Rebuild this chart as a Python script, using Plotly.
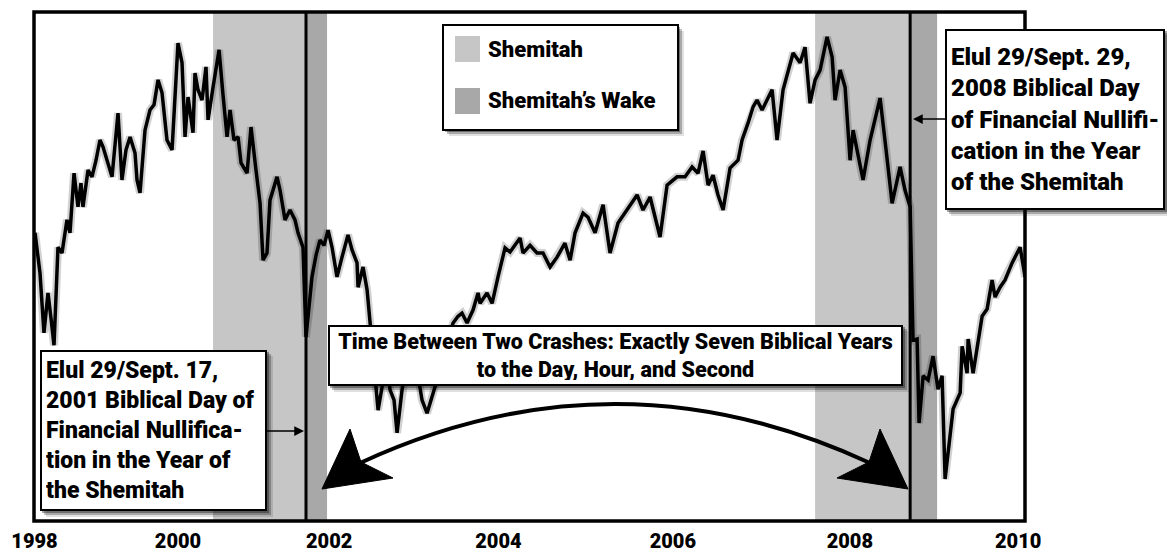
import plotly.graph_objects as go

# ---------------- data ----------------
years = [
    1998.556, 1998.614, 1998.660, 1998.707, 1998.742, 1998.777, 1998.823, 1998.870, 1998.928, 1998.963,
    1999.010, 1999.056, 1999.091, 1999.114, 1999.173, 1999.219, 1999.266, 1999.312, 1999.347, 1999.394,
    1999.452, 1999.522, 1999.568, 1999.615, 1999.662, 1999.720, 1999.743, 1999.778, 1999.836, 1999.894,
    1999.941, 1999.988, 2000.034, 2000.092, 2000.151, 2000.220, 2000.267, 2000.302, 2000.337, 2000.395,
    2000.418, 2000.453, 2000.500, 2000.546, 2000.570, 2000.628, 2000.698, 2000.744, 2000.791, 2000.826,
    2000.872, 2000.919, 2000.954, 2001.024, 2001.070, 2001.128, 2001.175, 2001.210, 2001.256, 2001.291,
    2001.373, 2001.408, 2001.466, 2001.524, 2001.582, 2001.617, 2001.675, 2001.710, 2001.780, 2001.827,
    2001.873, 2001.920, 2001.967, 2002.013, 2002.071, 2002.129, 2002.199, 2002.246, 2002.304, 2002.316,
    2002.374, 2002.421, 2002.455, 2002.502, 2002.549, 2002.595, 2002.642, 2002.688, 2002.735, 2002.770,
    2002.828, 2002.886, 2002.944, 2003.003, 2003.061, 2003.119, 2003.154, 2003.212, 2003.270, 2003.340,
    2003.422, 2003.480, 2003.526, 2003.585, 2003.654, 2003.713, 2003.736, 2003.817, 2003.876, 2003.945,
    2004.027, 2004.085, 2004.143, 2004.202, 2004.236, 2004.318, 2004.399, 2004.469, 2004.551, 2004.632,
    2004.724, 2004.784, 2004.842, 2004.935, 2004.993, 2005.075, 2005.168, 2005.249, 2005.342, 2005.447,
    2005.564, 2005.633, 2005.715, 2005.831, 2005.913, 2006.029, 2006.122, 2006.204, 2006.274, 2006.332,
    2006.390, 2006.448, 2006.506, 2006.565, 2006.646, 2006.739, 2006.786, 2006.856, 2006.914, 2006.960,
    2007.019, 2007.135, 2007.193, 2007.263, 2007.345, 2007.380, 2007.461, 2007.519, 2007.577, 2007.636,
    2007.694, 2007.775, 2007.834, 2007.868, 2007.927, 2007.985, 2008.043, 2008.078, 2008.136, 2008.194,
    2008.276, 2008.392, 2008.462, 2008.532, 2008.625, 2008.683, 2008.742, 2008.776, 2008.823, 2008.846,
    2008.893, 2008.951, 2009.009, 2009.067, 2009.114, 2009.149, 2009.242, 2009.324, 2009.347, 2009.405,
    2009.417, 2009.475, 2009.580, 2009.638, 2009.696, 2009.731, 2009.789, 2009.847, 2009.929, 2010.022,
    2010.080,
]

spx = [
    1158, 1080, 965, 1042, 993, 941, 1130, 1119, 1183, 1158,
    1273, 1208, 1254, 1208, 1279, 1266, 1298, 1337, 1324, 1298,
    1266, 1389, 1260, 1318, 1343, 1312, 1260, 1235, 1356, 1395,
    1405, 1453, 1428, 1337, 1318, 1524, 1486, 1343, 1420, 1351,
    1466, 1434, 1414, 1478, 1376, 1439, 1511, 1424, 1343, 1395,
    1337, 1343, 1293, 1273, 1362, 1279, 1215, 1105, 1119, 1221,
    1266, 1240, 1183, 1202, 1183, 1158, 1130, 957, 1073, 1115,
    1144, 1134, 1163, 1130, 1073, 1111, 1154, 1125, 1100, 1053,
    1092, 1048, 984, 893, 816, 860, 932, 855, 835, 772,
    855, 912, 932, 893, 835, 810, 829, 860, 893, 941,
    984, 997, 1003, 984, 1009, 1042, 1022, 1042, 1022, 1073,
    1129, 1121, 1134, 1148, 1119, 1134, 1119, 1119, 1092, 1111,
    1138, 1105, 1158, 1196, 1188, 1158, 1212, 1119, 1177, 1202,
    1231, 1202, 1227, 1150, 1250, 1266, 1266, 1285, 1273, 1316,
    1250, 1269, 1231, 1202, 1283, 1298, 1337, 1370, 1401, 1414,
    1395, 1434, 1337, 1434, 1482, 1505, 1486, 1516, 1408, 1453,
    1472, 1536, 1497, 1414, 1472, 1439, 1298, 1356, 1308, 1260,
    1337, 1418, 1318, 1215, 1285, 1240, 1208, 951, 953, 791,
    882, 874, 920, 856, 882, 683, 818, 849, 939, 887,
    953, 887, 997, 1011, 1067, 1034, 1053, 1067, 1100, 1130,
    1073,
]

tick_pos = [1998.55, 2000.22, 2001.98, 2003.95, 2005.98, 2008.04, 2010.0]
tick_text = ["1998", "2000", "2002", "2004", "2006", "2008", "2010"]

shemitah_start = [2000.628, 2007.636]
crash_day = [2001.710, 2008.742]      # Elul 29 of each Shemitah year
wake_end = [2001.955, 2009.056]

x_range = [1998.544, 2010.079]
y_range = [602, 1584]

# ---------------- style ----------------
W, H = 1167, 556
ML, MR, MT, MB = 34, 142, 12, 35
PW, PH = W - ML - MR, H - MT - MB
FONT = "Roboto, 'Liberation Sans Narrow', sans-serif"
LIGHT = "#c6c6c6"
DARK = "#a8a8a8"


def px(x):
    return (x - ML) / PW


def py(y):
    return (H - MB - y) / PH


fig = go.Figure()

# soft shadow under the index line
fig.add_trace(go.Scatter(
    x=years, y=spx, mode="lines",
    line=dict(color="rgba(0,0,0,0.18)", width=8),
    showlegend=False, hoverinfo="skip",
))
fig.add_trace(go.Scatter(
    x=years, y=spx, mode="lines",
    line=dict(color="black", width=3.5),
    showlegend=False, hoverinfo="skip",
))

shapes = []
for s, c, e in zip(shemitah_start, crash_day, wake_end):
    shapes.append(dict(type="rect", xref="x", yref="paper", x0=s, x1=c, y0=0, y1=1,
                       fillcolor=LIGHT, line=dict(width=0), layer="below"))
    shapes.append(dict(type="rect", xref="x", yref="paper", x0=c, x1=e, y0=0, y1=1,
                       fillcolor=DARK, line=dict(width=0), layer="below"))
    shapes.append(dict(type="line", xref="x", yref="paper", x0=c, x1=c, y0=0, y1=1,
                       line=dict(color="black", width=3), layer="above"))

# frame
shapes.append(dict(type="rect", xref="paper", yref="paper", x0=0, x1=1, y0=0, y1=1,
                   line=dict(color="black", width=3.5), layer="above"))


def shadow(x0, y0, x1, y1):
    out = []
    for off, col in [(6, "rgba(0,0,0,0.12)"), (4, "rgba(0,0,0,0.25)"), (2, "rgba(0,0,0,0.35)")]:
        out.append(dict(type="rect", xref="paper", yref="paper",
                        x0=px(x0 + off), x1=px(x1 + off), y0=py(y1 + off), y1=py(y0 + off),
                        fillcolor=col, line=dict(width=0), layer="above"))
    return out


# legend box (drawn by hand)
shapes += shadow(443, 25, 678, 130)
shapes.append(dict(type="rect", xref="paper", yref="paper", x0=px(443), x1=px(678), y0=py(130), y1=py(25),
                   fillcolor="white", line=dict(color="black", width=2), layer="above"))
shapes.append(dict(type="rect", xref="paper", yref="paper", x0=px(455), x1=px(480), y0=py(62), y1=py(36),
                   fillcolor=LIGHT, line=dict(width=0), layer="above"))
shapes.append(dict(type="rect", xref="paper", yref="paper", x0=px(455), x1=px(480), y0=py(114), y1=py(88),
                   fillcolor=DARK, line=dict(width=0), layer="above"))

# box shadows for annotations
shapes += shadow(40, 350, 267, 511)
shapes += shadow(945, 29, 1165, 210)
shapes += shadow(328, 325, 903, 386)

# curved double arrow
shapes.append(dict(type="path", xref="paper", yref="paper",
                   path=f"M {px(360)},{py(463)} Q {px(615)},{py(345)} {px(870)},{py(463)}",
                   line=dict(color="black", width=4), layer="above"))
shapes.append(dict(type="path", xref="paper", yref="paper",
                   path=f"M {px(322)},{py(489)} L {px(350)},{py(429)} L {px(361)},{py(462)} L {px(393)},{py(478)} Z",
                   fillcolor="black", line=dict(color="black", width=1), layer="above"))
shapes.append(dict(type="path", xref="paper", yref="paper",
                   path=f"M {px(908)},{py(489)} L {px(880)},{py(429)} L {px(869)},{py(462)} L {px(837)},{py(478)} Z",
                   fillcolor="black", line=dict(color="black", width=1), layer="above"))

bold = dict(family=FONT, color="black", weight=900)

annotations = [
    dict(xref="paper", yref="paper", x=px(486), y=py(49), xanchor="left", yanchor="middle",
         text="Shemitah", showarrow=False, font=dict(size=22, **bold)),
    dict(xref="paper", yref="paper", x=px(486), y=py(101), xanchor="left", yanchor="middle",
         text="Shemitah\u2019s Wake", showarrow=False, font=dict(size=22, **bold)),
    # left box
    dict(xref="paper", yref="paper", x=px(304), y=py(431), ax=153.5 - 304, ay=0,
         text="Elul 29/Sept. 17,<br>2001 Biblical Day of<br>Financial Nullifica-<br>tion in the Year of<br>the Shemitah",
         showarrow=True, arrowhead=2, arrowsize=1.3, arrowwidth=1.5, arrowcolor="black",
         align="left", valign="middle", width=227 - 12, height=161 - 12,
         bgcolor="white", bordercolor="black", borderwidth=2, borderpad=4,
         font=dict(size=23, **bold)),
    # right box
    dict(xref="paper", yref="paper", x=px(913), y=py(119), ax=1055 - 913, ay=0,
         text="Elul 29/Sept. 29,<br>2008 Biblical Day<br>of Financial Nullifi-<br>cation in the Year<br>of the Shemitah",
         showarrow=True, arrowhead=2, arrowsize=1.3, arrowwidth=1.5, arrowcolor="black",
         align="left", valign="middle", width=220 - 12, height=181 - 12,
         bgcolor="white", bordercolor="black", borderwidth=2, borderpad=4,
         font=dict(size=24, **bold)),
    # middle box
    dict(xref="paper", yref="paper", x=px(615.5), y=py(355.5), xanchor="center", yanchor="middle",
         text="Time Between Two Crashes: Exactly Seven Biblical Years<br>to the Day, Hour, and Second",
         showarrow=False, align="center", valign="middle", width=575 - 12, height=61 - 12,
         bgcolor="white", bordercolor="black", borderwidth=2, borderpad=4,
         font=dict(size=21.5, **bold)),
]

fig.update_layout(
    width=W, height=H,
    margin=dict(l=ML, r=MR, t=MT, b=MB),
    paper_bgcolor="white", plot_bgcolor="white",
    shapes=shapes, annotations=annotations,
    showlegend=False,
    xaxis=dict(range=x_range, showgrid=False, zeroline=False, showline=False, automargin=False,
               tickmode="array", tickvals=tick_pos, ticktext=tick_text, ticks="",
               tickfont=dict(size=20, **bold), ticklabelstandoff=6),
    yaxis=dict(range=y_range, showgrid=False, zeroline=False, showline=False, automargin=False,
               showticklabels=False, ticks=""),
)

fig.write_html("out.html", config={"displayModeBar": False},
               post_script="document.body.style.margin='0';")
